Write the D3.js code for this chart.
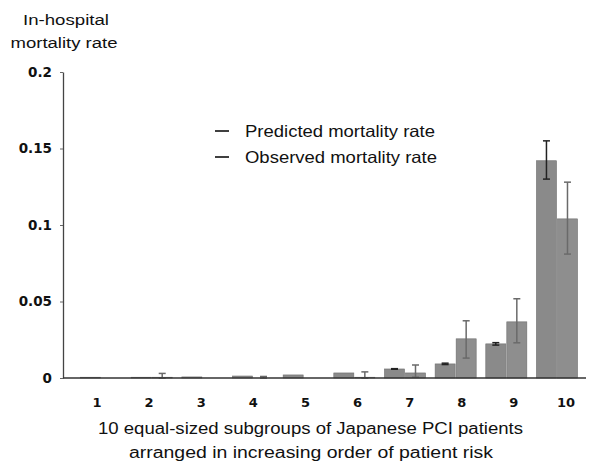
<!DOCTYPE html>
<html>
<head>
<meta charset="utf-8">
<script src="https://cdn.jsdelivr.net/npm/d3@7"></script>
<style>
  body { margin: 0; background: #fff; }
  svg { display: block; }
</style>
</head>
<body>
<svg id="chart" width="595" height="464"></svg>
<script>
// Subgroups 1..10 (deciles of patient risk)
const groups = [1, 2, 3, 4, 5, 6, 7, 8, 9, 10];

// Predicted mortality rate and its interval
const predicted   = [0.0005, 0.0005, 0.0007, 0.0013, 0.002, 0.0033, 0.0059, 0.0092, 0.0223, 0.142];
const predictedLo = [0.0005, 0.0005, 0.0007, 0.0013, 0.002, 0.0033, 0.0057, 0.0088, 0.0215, 0.130];
const predictedHi = [0.0005, 0.0005, 0.0007, 0.0013, 0.002, 0.0033, 0.0061, 0.0097, 0.0231, 0.155];

// Observed mortality rate and its interval
const observed   = [0, 0.0005, 0, 0, 0, 0.0005, 0.0033, 0.0256, 0.0367, 0.104];
const observedLo = [0, 0, 0, 0, 0, 0, 0.0005, 0.013, 0.023, 0.081];
const observedHi = [0, 0.003, 0, 0.001, 0, 0.004, 0.0085, 0.0374, 0.0518, 0.128];

const yTicks = [0, 0.05, 0.1, 0.15, 0.2];
const yTickLabels = ['0', '0.05', '0.1', '0.15', '0.2'];
const seriesNames = ['Predicted mortality rate', 'Observed mortality rate'];

const svg = d3.select('#chart');

const x = d3.scaleBand()
  .domain(groups)
  .range([75.7, 582.3])
  .paddingInner(0.17)
  .paddingOuter(0.085);

const xSeries = d3.scaleBand()
  .domain([0, 1])
  .range([0, x.bandwidth()]);

// the group numbers sit a little off the bar centres in the original
const xLabel = d3.scalePoint()
  .domain(groups)
  .range([97, 566]);

const y = d3.scaleLinear()
  .domain([0, 0.2])
  .range([378, 72]);

const barColor = ['#8a8a8a', '#8e8e8e'];
const errColor = ['#222', '#6a6a6a'];

const rows = groups.map((g, i) => [
  { g, s: 0, v: predicted[i], lo: predictedLo[i], hi: predictedHi[i] },
  { g, s: 1, v: observed[i], lo: observedLo[i], hi: observedHi[i] }
]);

// Bars
const grp = svg.append('g').selectAll('g')
  .data(rows)
  .join('g')
  .attr('transform', d => `translate(${x(d[0].g)},0)`);

grp.selectAll('rect')
  .data(d => d.filter(b => b.v > 0))
  .join('rect')
  .attr('x', d => xSeries(d.s) + 0.5)
  .attr('width', xSeries.bandwidth() - 1)
  .attr('y', d => y(d.v))
  .attr('height', d => y(0) - y(d.v))
  .attr('fill', d => barColor[d.s])
  .attr('stroke', '#6e6e6e')
  .attr('stroke-width', 0.6);

// Error bars
const err = grp.selectAll('g.err')
  .data(d => d.filter(b => b.hi - b.lo > 0.0004))
  .join('g')
  .attr('class', 'err')
  .attr('stroke', d => errColor[d.s])
  .attr('stroke-width', 1.5);

err.append('line')
  .attr('x1', d => xSeries(d.s) + xSeries.bandwidth() / 2)
  .attr('x2', d => xSeries(d.s) + xSeries.bandwidth() / 2)
  .attr('y1', d => y(d.lo))
  .attr('y2', d => y(d.hi));

err.append('line')
  .attr('x1', d => xSeries(d.s) + xSeries.bandwidth() / 2 - 3.5)
  .attr('x2', d => xSeries(d.s) + xSeries.bandwidth() / 2 + 3.5)
  .attr('y1', d => y(d.hi))
  .attr('y2', d => y(d.hi));

err.append('line')
  .attr('x1', d => xSeries(d.s) + xSeries.bandwidth() / 2 - 3.5)
  .attr('x2', d => xSeries(d.s) + xSeries.bandwidth() / 2 + 3.5)
  .attr('y1', d => y(d.lo))
  .attr('y2', d => y(d.lo));

// Y axis
const yAxis = svg.append('g')
  .attr('transform', 'translate(63,0)')
  .call(d3.axisLeft(y).tickValues(yTicks).tickSize(3).tickSizeOuter(0)
    .tickFormat((d, i) => yTickLabels[i]));
yAxis.select('.domain').attr('stroke', '#444').attr('stroke-width', 1.3);
yAxis.selectAll('.tick line').attr('stroke', '#666');
yAxis.selectAll('.tick text')
  .attr('x', -11)
  .attr('fill', '#111')
  .style('font-family', '"DejaVu Sans", Verdana, sans-serif')
  .style('font-weight', 'bold')
  .style('font-size', '13.5px');

// X axis line
svg.append('line')
  .attr('x1', 63).attr('x2', 586)
  .attr('y1', y(0)).attr('y2', y(0))
  .attr('stroke', '#333')
  .attr('stroke-width', 1.5);

// X tick labels
svg.append('g').selectAll('text')
  .data(groups)
  .join('text')
  .attr('x', d => xLabel(d))
  .attr('y', 407)
  .attr('text-anchor', 'middle')
  .attr('fill', '#111')
  .style('font-family', '"DejaVu Sans", Verdana, sans-serif')
  .style('font-weight', 'bold')
  .style('font-size', '13px')
  .text(d => d);

const textFont = '"Liberation Sans", Arial, sans-serif';

// Y axis title
svg.append('text')
  .attr('x', 66).attr('y', 25)
  .attr('text-anchor', 'middle')
  .attr('textLength', 86).attr('lengthAdjust', 'spacingAndGlyphs')
  .style('font-family', textFont).style('font-size', '15.5px').attr('fill', '#111')
  .text('In-hospital');
svg.append('text')
  .attr('x', 64).attr('y', 48)
  .attr('text-anchor', 'middle')
  .attr('textLength', 107).attr('lengthAdjust', 'spacingAndGlyphs')
  .style('font-family', textFont).style('font-size', '15.5px').attr('fill', '#111')
  .text('mortality rate');

// X axis title
svg.append('text')
  .attr('x', 310.5).attr('y', 434)
  .attr('text-anchor', 'middle')
  .attr('textLength', 425).attr('lengthAdjust', 'spacingAndGlyphs')
  .style('font-family', textFont).style('font-size', '16px').attr('fill', '#111')
  .text('10 equal-sized subgroups of Japanese PCI patients');
svg.append('text')
  .attr('x', 311).attr('y', 458)
  .attr('text-anchor', 'middle')
  .attr('textLength', 364).attr('lengthAdjust', 'spacingAndGlyphs')
  .style('font-family', textFont).style('font-size', '16px').attr('fill', '#111')
  .text('arranged in increasing order of patient risk');

// Legend
const legend = svg.append('g').selectAll('g')
  .data(seriesNames)
  .join('g')
  .attr('transform', (d, i) => `translate(0,${137 + i * 26})`);
legend.append('line')
  .attr('x1', 215).attr('x2', 229)
  .attr('y1', -6).attr('y2', -6)
  .attr('stroke', '#111').attr('stroke-width', 1.6);
legend.append('text')
  .attr('x', 245)
  .attr('textLength', (d, i) => i === 0 ? 190 : 192)
  .attr('lengthAdjust', 'spacingAndGlyphs')
  .style('font-family', textFont).style('font-size', '16.5px').attr('fill', '#111')
  .text(d => d);
</script>
</body>
</html>
